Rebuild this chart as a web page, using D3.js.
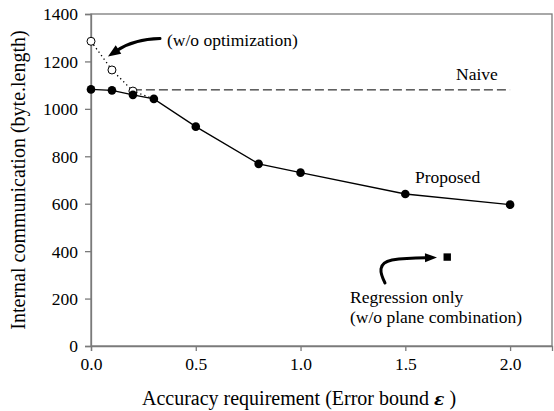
<!DOCTYPE html>
<html>
<head>
<meta charset="utf-8">
<script src="https://cdn.jsdelivr.net/npm/d3@7"></script>
<style>
    body { margin: 0; background: #fff; }
</style>
</head>
<body>
<div id="chart"></div>
<script>
// Data
const epsilon = [0, 0.1, 0.2, 0.3, 0.5, 0.8, 1.0, 1.5, 2.0];
const proposed = [1082, 1078, 1059, 1042, 925, 768, 731, 641, 596];
const noOptEps = [0, 0.1, 0.2, 0.3];
const noOpt = [1285, 1164, 1075, 1042];
const naiveEps = [0.2, 2.0];
const naive = [1080, 1080];
const regressionEps = [1.7];
const regression = [375];
const xTicks = [0, 0.5, 1.0, 1.5, 2.0];
const yTicks = [0, 200, 400, 600, 800, 1000, 1200, 1400];

const width = 554, height = 411;
const plot = { left: 91, right: 552, top: 14, bottom: 346 };
const serif = "Liberation Serif";

const svg = d3.select("#chart").append("svg")
    .attr("width", width)
    .attr("height", height);

const x = d3.scaleLinear().domain([0, 2.2]).range([plot.left, plot.right]);
const y = d3.scaleLinear().domain([0, 1400]).range([plot.bottom, plot.top]);

const axisColor = "#7a7a7a";

// frame
svg.append("rect")
    .attr("x", plot.left).attr("y", plot.top)
    .attr("width", plot.right - plot.left).attr("height", plot.bottom - plot.top)
    .attr("fill", "none").attr("stroke", axisColor).attr("stroke-width", 1.3);

// axes
const xAxis = svg.append("g")
    .attr("transform", `translate(0,${plot.bottom})`)
    .call(d3.axisBottom(x).tickValues(xTicks).tickSize(5).tickPadding(6).tickFormat(d3.format(".1f")));
const yAxis = svg.append("g")
    .attr("transform", `translate(${plot.left},0)`)
    .call(d3.axisLeft(y).tickValues(yTicks).tickSize(6).tickPadding(7).tickFormat(d3.format("d")));

[xAxis, yAxis].forEach(a => {
    a.attr("font-family", null).attr("font-size", null);
    a.select(".domain").attr("stroke", axisColor).attr("stroke-width", 1.3);
    a.selectAll(".tick line").attr("stroke", axisColor).attr("stroke-width", 1.3);
    a.selectAll(".tick text")
        .attr("fill", "#000")
        .attr("font-family", serif)
        .attr("font-size", 17.5);
});
yAxis.selectAll(".tick text").attr("dy", "0.34em");
xAxis.selectAll(".tick text").attr("dy", "0.74em");

// axis titles
const xTitle = svg.append("text")
    .attr("x", 299).attr("y", 405)
    .attr("text-anchor", "middle")
    .attr("font-family", serif)
    .attr("font-size", 20);
xTitle.append("tspan").attr("font-family", serif).text("Accuracy requirement (Error bound ");
xTitle.append("tspan")
    .attr("font-style", "italic")
    .attr("font-weight", "bold")
    .attr("font-family", "DejaVu Serif")
    .attr("font-size", 17)
    .text("ε");
xTitle.append("tspan").attr("font-family", serif).text(" )");

svg.append("text")
    .attr("transform", `translate(25,${(plot.top + plot.bottom) / 2}) rotate(-90)`)
    .attr("text-anchor", "middle")
    .attr("font-family", serif)
    .attr("font-size", 20)
    .text("Internal communication (byte.length)");

const line = d3.line().x(d => x(d[0])).y(d => y(d[1]));

// naive (dashed)
svg.append("path")
    .datum(d3.zip(naiveEps, naive))
    .attr("d", line)
    .attr("fill", "none").attr("stroke", "#000").attr("stroke-width", 1)
    .attr("stroke-dasharray", "9,4");

// without optimization (dotted)
svg.append("path")
    .datum(d3.zip(noOptEps, noOpt))
    .attr("d", line)
    .attr("fill", "none").attr("stroke", "#000").attr("stroke-width", 1.3)
    .attr("stroke-dasharray", "1.3,3");

// proposed (solid)
svg.append("path")
    .datum(d3.zip(epsilon, proposed))
    .attr("d", line)
    .attr("fill", "none").attr("stroke", "#000").attr("stroke-width", 1.3);

svg.append("g").selectAll("circle")
    .data(d3.zip(noOptEps, noOpt).slice(0, 3))
    .join("circle")
    .attr("cx", d => x(d[0])).attr("cy", d => y(d[1])).attr("r", 4)
    .attr("fill", "#fff").attr("stroke", "#000").attr("stroke-width", 1);

svg.append("g").selectAll("circle")
    .data(d3.zip(epsilon, proposed))
    .join("circle")
    .attr("cx", d => x(d[0])).attr("cy", d => y(d[1])).attr("r", 4.3)
    .attr("fill", "#000");

// regression only (square)
svg.append("g").selectAll("rect")
    .data(d3.zip(regressionEps, regression))
    .join("rect")
    .attr("x", d => x(d[0]) - 3.7).attr("y", d => y(d[1]) - 3.7)
    .attr("width", 7.4).attr("height", 7.4)
    .attr("fill", "#000");

// labels
const label = (tx, ty, t) => svg.append("text")
    .attr("x", tx).attr("y", ty)
    .attr("font-family", serif)
    .attr("font-size", 17.5)
    .text(t);
label(167, 46, "(w/o optimization)");
label(456, 80, "Naive");
label(415, 183, "Proposed");
label(350, 303, "Regression only");
label(350, 323, "(w/o plane combination)");

// curved arrows
function arrow(pathD, tip, base, halfW) {
    svg.append("path")
        .attr("d", pathD)
        .attr("fill", "none").attr("stroke", "#000")
        .attr("stroke-width", 3).attr("stroke-linecap", "round");
    const ang = Math.atan2(tip[1] - base[1], tip[0] - base[0]);
    const px = -Math.sin(ang) * halfW, py = Math.cos(ang) * halfW;
    svg.append("path")
        .attr("d", `M${tip[0]},${tip[1]}L${base[0] + px},${base[1] + py}L${base[0] - px},${base[1] - py}Z`)
        .attr("fill", "#000");
}
arrow("M160,38.5 C140,39 128,43 117,50.5", [108, 56.5], [118.5, 49.5], 5);
arrow("M385,283 C380,273 377,263 392,260 C402,258.5 412,258 426,257.8", [437, 257.5], [425, 257.7], 4.5);
</script>
</body>
</html>
